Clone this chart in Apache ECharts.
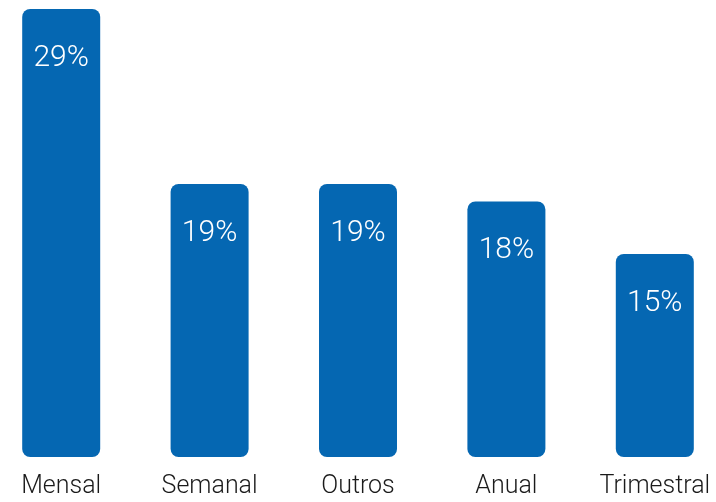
<!DOCTYPE html>
<html>
<head>
<meta charset="utf-8">
<script src="https://cdn.jsdelivr.net/npm/echarts@6/dist/echarts.min.js"></script>
<style>
  html, body { margin: 0; padding: 0; background: #fff; }
  #main { width: 716px; height: 502px; }
</style>
</head>
<body>
<div id="main"></div>
<script>
// frequência - percentuais
const categories = ['Mensal', 'Semanal', 'Outros', 'Anual', 'Trimestral']
const values = [29, 19, 19, 18, 15]

const chart = echarts.init(document.getElementById('main'))
chart.setOption({
  animation: false,
  grid: { left: -13, right: -13, top: 9, bottom: 45, outerBoundsMode: 'none', containLabel: false },
  xAxis: {
    type: 'category',
    data: categories,
    axisLine: { show: false },
    axisTick: { show: false },
    splitLine: { show: false },
    axisLabel: {
      interval: 0,
      margin: 17,
      color: '#1a1a1a',
      fontSize: 25,
      fontFamily: 'Roboto',
      fontWeight: 300
    }
  },
  yAxis: {
    type: 'value',
    min: 3.4,
    max: 29,
    show: false,
    splitLine: { show: false }
  },
  series: [{
    type: 'bar',
    data: values,
    barWidth: 78,
    itemStyle: { color: '#0567b2', borderRadius: 8 },
    label: {
      show: true,
      position: 'insideTop',
      distance: 34,
      formatter: '{c}%',
      color: '#fff',
      fontSize: 30,
      fontFamily: 'Roboto',
      fontWeight: 300
    }
  }]
})
</script>
</body>
</html>
